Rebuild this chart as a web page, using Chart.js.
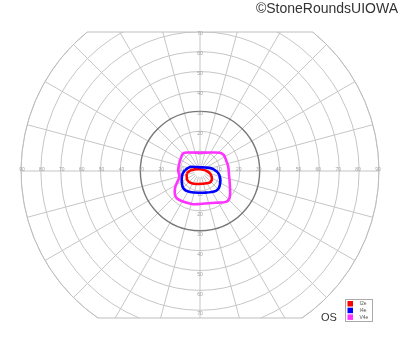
<!DOCTYPE html>
<html>
<head>
<meta charset="utf-8">
<script src="https://cdn.jsdelivr.net/npm/chart.js@4.4.1/dist/chart.umd.min.js"></script>
<style>
html,body{margin:0;padding:0;background:#fff;}
canvas{display:block;}
</style>
</head>
<body>
<canvas id="c" width="400" height="352"></canvas>
<script>
// Isopters (degrees: x = horizontal, y = vertical)
const i2eX = [-6.7, -4.2, 0, 4.2, 5.9, 5.5, 3.4, -0.9, -4.2, -6.4, -6.7];
const i2eY = [-1.2, 0.5, 0.9, -0.4, -2.9, -5.4, -6.2, -6.5, -6.2, -4.5, -1.2];
const i4eX = [-7.5, -5, -1.7, 2.5, 6.7, 9.7, 10, 8, 1.7, -5, -8.4, -9.2, -8.8, -7.5];
const i4eY = [0.5, 2, 2, 1.8, 1, -2, -7, -10, -10.9, -10.6, -8.7, -4.5, -1.5, 0.5];
const v4eX = [-10, -8.4, -5, 0, 5, 10, 12, 13.4, 14.2, 14.6, 15, 15, 13.4, 7.5, 0, -4.2, -11.7, -12.6, -10.4, -11, -10];
const v4eY = [5.5, 8.9, 9.3, 9.2, 9.3, 9.2, 8, 4.7, 2.2, -2, -7, -12.9, -15.4, -16, -16.6, -16.6, -13.7, -8.7, -2.9, 0.5, 5.5];

// Grid
const rings = [10, 20, 30, 40, 50, 60, 70, 80, 90];
const darkRing = 30;
const radialStart = 3;
const radialAngles = [0, 15, 30, 45, 60, 75, 90, 105, 120, 135, 150, 165, 180, 195, 210, 225, 240, 255, 270, 285, 300, 315, 330, 345];
const hLabels = [10, 20, 30, 40, 50, 60, 70, 80, 90];
const vLabels = [10, 20, 30, 40, 50, 60, 70];
const legendNames = ['I2e', 'I4e', 'V4e'];
const legendColors = ['#ff0000', '#0000ff', '#ff33ff'];

function pts(xs, ys){ return xs.map((x,i)=>({x:x, y:ys[i]})); }

const gridPlugin = {
  id: 'vfgrid',
  beforeDatasetsDraw(chart){
    const {ctx, chartArea, scales:{x, y}} = chart;
    const cx = x.getPixelForValue(0), cy = y.getPixelForValue(0);
    const pr = v => x.getPixelForValue(v) - cx;
    const R = pr(90);
    ctx.save();
    ctx.beginPath();
    ctx.rect(chartArea.left - 1, chartArea.top, chartArea.right - chartArea.left + 2, chartArea.bottom - chartArea.top);
    ctx.clip();
    ctx.beginPath();
    ctx.arc(cx, cy, R + 0.5, 0, Math.PI*2);
    ctx.clip();
    ctx.lineWidth = 1;
    ctx.strokeStyle = '#c6c6c6';
    const r0 = pr(radialStart);
    radialAngles.forEach(a => {
      const t = a*Math.PI/180;
      ctx.beginPath();
      ctx.moveTo(cx + Math.cos(t)*r0, cy - Math.sin(t)*r0);
      ctx.lineTo(cx + Math.cos(t)*R, cy - Math.sin(t)*R);
      ctx.stroke();
    });
    rings.forEach(r => {
      if (r === darkRing) return;
      ctx.beginPath();
      ctx.arc(cx, cy, pr(r), 0, Math.PI*2);
      ctx.stroke();
    });
    ctx.strokeStyle = '#777';
    ctx.lineWidth = 1.4;
    ctx.beginPath();
    ctx.arc(cx, cy, pr(darkRing), 0, Math.PI*2);
    ctx.stroke();
    ctx.restore();

    // outer boundary
    const yT = chartArea.top, yB = chartArea.bottom;
    const dxT = Math.sqrt(R*R - (cy-yT)*(cy-yT));
    const dxB = Math.sqrt(R*R - (yB-cy)*(yB-cy));
    ctx.save();
    ctx.strokeStyle = '#bdbdbd';
    ctx.lineWidth = 1;
    ctx.beginPath();
    ctx.moveTo(cx - dxT, yT);
    ctx.lineTo(cx + dxT, yT);
    ctx.arc(cx, cy, R, Math.atan2(yT-cy, dxT), Math.atan2(yB-cy, dxB), false);
    ctx.lineTo(cx - dxB, yB);
    ctx.arc(cx, cy, R, Math.atan2(yB-cy, -dxB), Math.atan2(yT-cy, -dxT), false);
    ctx.stroke();

    // labels
    ctx.fillStyle = '#a0a0a0';
    ctx.font = '5px "Liberation Sans", Arial, sans-serif';
    ctx.textAlign = 'center';
    ctx.textBaseline = 'middle';
    hLabels.forEach(v => {
      ctx.fillText(String(v), x.getPixelForValue(-v) + 1, cy - 1);
      ctx.fillText(String(v), x.getPixelForValue(v) - 1, cy - 1);
    });
    vLabels.forEach(v => {
      ctx.fillText(String(v), cx, y.getPixelForValue(v) + 2);
      ctx.fillText(String(v), cx, y.getPixelForValue(-v) + 4);
    });
    ctx.restore();
  },
  afterDraw(chart){
    const {ctx} = chart;
    ctx.save();
    ctx.fillStyle = '#333';
    ctx.font = '14px "Liberation Sans", Arial, sans-serif';
    ctx.textAlign = 'right';
    ctx.textBaseline = 'alphabetic';
    ctx.fillText('\u00A9StoneRoundsUIOWA', 398, 13);
    ctx.fillStyle = '#333';
    ctx.font = '11px "Liberation Sans", Arial, sans-serif';
    ctx.textAlign = 'left';
    ctx.fillText('OS', 321, 321);
    // legend box
    const bx = 345.5, by = 299.5, bw = 27, bh = 22;
    ctx.strokeStyle = '#aaa';
    ctx.lineWidth = 1;
    ctx.fillStyle = '#fff';
    ctx.fillRect(bx, by, bw, bh);
    ctx.strokeRect(bx, by, bw, bh);
    ctx.font = '5px "Liberation Sans", Arial, sans-serif';
    ctx.textBaseline = 'middle';
    legendNames.forEach((n, i) => {
      ctx.fillStyle = legendColors[i];
      ctx.fillRect(bx + 2, by + 1.5 + i*6.7, 5.5, 5.5);
      ctx.fillStyle = '#555';
      ctx.fillText(n, bx + 14, by + 4.3 + i*6.7);
    });
    ctx.restore();
  }
};

new Chart(document.getElementById('c'), {
  type: 'scatter',
  data: {
    datasets: [
      {label: 'V4e', data: pts(v4eX, v4eY), borderColor: legendColors[2]},
      {label: 'I4e', data: pts(i4eX, i4eY), borderColor: legendColors[1]},
      {label: 'I2e', data: pts(i2eX, i2eY), borderColor: legendColors[0]}
    ].map(d => Object.assign(d, {showLine: true, pointRadius: 0, borderWidth: 2.6, tension: 0.35, fill: false}))
  },
  options: {
    responsive: false,
    animation: false,
    layout: {padding: {left: 21, right: 21, top: 32, bottom: 34}},
    plugins: {legend: {display: false}, tooltip: {enabled: false}},
    scales: {
      x: {type: 'linear', min: -90, max: 90, display: false},
      y: {type: 'linear', min: -74, max: 70, display: false}
    }
  },
  plugins: [gridPlugin]
});
</script>
</body>
</html>
